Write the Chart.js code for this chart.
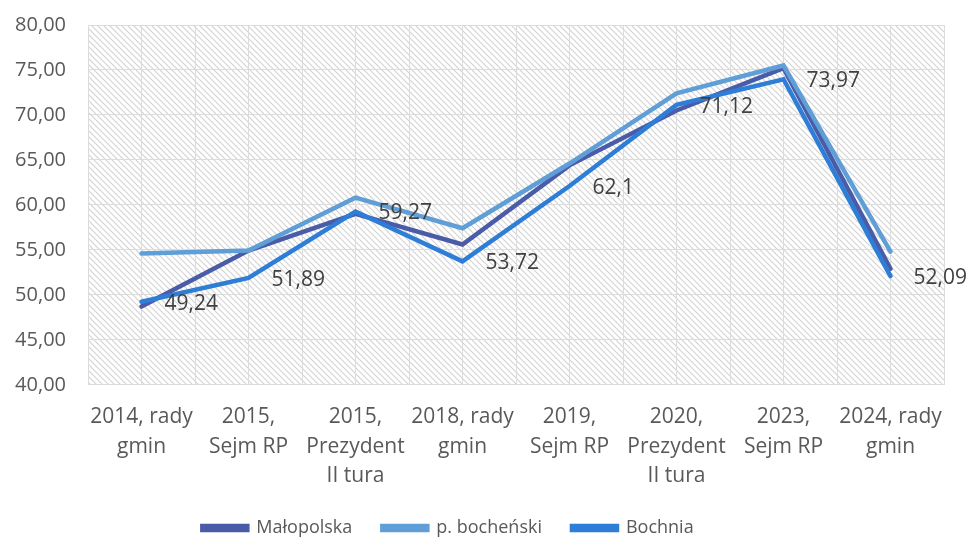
<!DOCTYPE html>
<html lang="pl">
<head>
<meta charset="utf-8">
<title>Frekwencja wyborcza</title>
<script src="https://cdn.jsdelivr.net/npm/chart.js@4/dist/chart.umd.min.js"></script>
<style>
  html, body { margin: 0; padding: 0; background: #ffffff; }
  #wrap { width: 967px; height: 539px; position: relative; }
</style>
</head>
<body>
<div id="wrap"><canvas id="chart"></canvas></div>
<script>
// Elections (multi-line category labels)
const categories = [
  ['2014, rady', 'gmin'],
  ['2015,', 'Sejm RP'],
  ['2015,', 'Prezydent', 'II tura'],
  ['2018, rady', 'gmin'],
  ['2019,', 'Sejm RP'],
  ['2020,', 'Prezydent', 'II tura'],
  ['2023,', 'Sejm RP'],
  ['2024, rady', 'gmin']
];

// Turnout, %
const malopolska = [48.7, 54.93, 59.0, 55.6, 64.4, 70.5, 75.2, 52.9];
const bochenski  = [54.6, 54.93, 60.8, 57.4, 64.6, 72.4, 75.5, 54.8];
const bochnia    = [49.24, 51.89, 59.27, 53.72, 62.1, 71.12, 73.97, 52.09];

// Value axis
const yMin = 40;
const yMax = 80;
const yStep = 5;

const FONT = "'Open Sans', 'Noto Sans', sans-serif";

// Diagonal hatch used to fill the plot area
function makeHatch() {
  const s = 6;
  const c = document.createElement('canvas');
  c.width = s; c.height = s;
  const g = c.getContext('2d');
  g.strokeStyle = '#d2d2d2';
  g.lineWidth = 1.1;
  g.beginPath();
  g.moveTo(-1, -1); g.lineTo(s + 1, s + 1);
  g.moveTo(s - 1, -1); g.lineTo(s + 1, 1);
  g.moveTo(-1, s - 1); g.lineTo(1, s + 1);
  g.stroke();
  return g.createPattern(c, 'repeat');
}

const plotBackground = {
  id: 'plotBackground',
  beforeDraw(chart) {
    const { ctx, chartArea: a } = chart;
    ctx.save();
    ctx.fillStyle = '#ffffff';
    ctx.fillRect(a.left, a.top, a.right - a.left, a.bottom - a.top);
    ctx.fillStyle = makeHatch();
    ctx.fillRect(a.left, a.top, a.right - a.left, a.bottom - a.top);
    ctx.restore();
  }
};

// Value labels for the Bochnia series, to the right of each point
const valueLabels = {
  id: 'valueLabels',
  afterDatasetsDraw(chart) {
    const { ctx } = chart;
    const idx = chart.data.datasets.findIndex(d => d.label === 'Bochnia');
    const meta = chart.getDatasetMeta(idx);
    const values = chart.data.datasets[idx].data;
    ctx.save();
    ctx.font = '21px ' + FONT;
    ctx.fillStyle = '#404040';
    ctx.textAlign = 'left';
    ctx.textBaseline = 'middle';
    meta.data.forEach((pt, i) => {
      const txt = String(values[i]).replace('.', ',');
      ctx.fillText(txt, pt.x + 23, pt.y + 2);
    });
    ctx.restore();
  }
};

// Nudge the legend row a little to the left
const legendShift = {
  id: 'legendShift',
  afterLayout(chart) {
    if (chart.legend) {
      chart.legend.left -= 30;
      chart.legend.right -= 30;
    }
  }
};

const gridColor = '#dcdcdc';

new Chart(document.getElementById('chart'), {
  type: 'line',
  data: {
    labels: categories,
    datasets: [
      {
        label: 'Małopolska',
        data: malopolska,
        borderColor: '#4a5ca8',
        backgroundColor: '#4a5ca8',
        order: 3
      },
      {
        label: 'p. bocheński',
        data: bochenski,
        borderColor: '#5f9ed6',
        backgroundColor: '#5f9ed6',
        order: 2
      },
      {
        label: 'Bochnia',
        data: bochnia,
        borderColor: '#2e7dd6',
        backgroundColor: '#2e7dd6',
        order: 1
      }
    ]
  },
  options: {
    responsive: true,
    maintainAspectRatio: false,
    animation: false,
    elements: {
      line: { borderWidth: 4.5, tension: 0, borderCapStyle: 'round', borderJoinStyle: 'miter' },
      point: { radius: 0, hoverRadius: 0 }
    },
    layout: { padding: { left: 12, right: 23, top: 25, bottom: -8 } },
    scales: {
      x: {
        type: 'category',
        offset: true,
        afterFit(scale) { scale.height -= 20; },
        grid: { display: false, drawTicks: false },
        border: { display: true, color: gridColor, width: 1 },
        ticks: {
          color: '#595959',
          font: { family: FONT, size: 21, lineHeight: 1.4 },
          padding: 18,
          maxRotation: 0,
          autoSkip: false
        }
      },
      xGrid: {
        type: 'category',
        position: 'top',
        labels: new Array(categories.length * 2).fill(''),
        offset: true,
        grid: { offset: true, color: gridColor, drawTicks: false, lineWidth: 1 },
        border: { display: false },
        ticks: { display: false }
      },
      y: {
        min: yMin,
        max: yMax,
        afterFit(scale) {
          scale.width = 76;
          scale.paddingTop = 0;
          scale.paddingBottom = 0;
        },
        grid: { color: gridColor, drawTicks: false, lineWidth: 1 },
        border: { display: false },
        ticks: {
          stepSize: yStep,
          color: '#595959',
          padding: 22,
          font: { family: FONT, size: 20 },
          callback: v => v.toFixed(2).replace('.', ',')
        }
      }
    },
    plugins: {
      legend: {
        position: 'bottom',
        labels: {
          boxWidth: 45,
          boxHeight: 4,
          color: '#595959',
          padding: 30,
          font: { family: FONT, size: 18 },
          sort: (a, b) => a.datasetIndex - b.datasetIndex
        }
      },
      tooltip: { enabled: false }
    }
  },
  plugins: [plotBackground, valueLabels, legendShift]
});
</script>
</body>
</html>
